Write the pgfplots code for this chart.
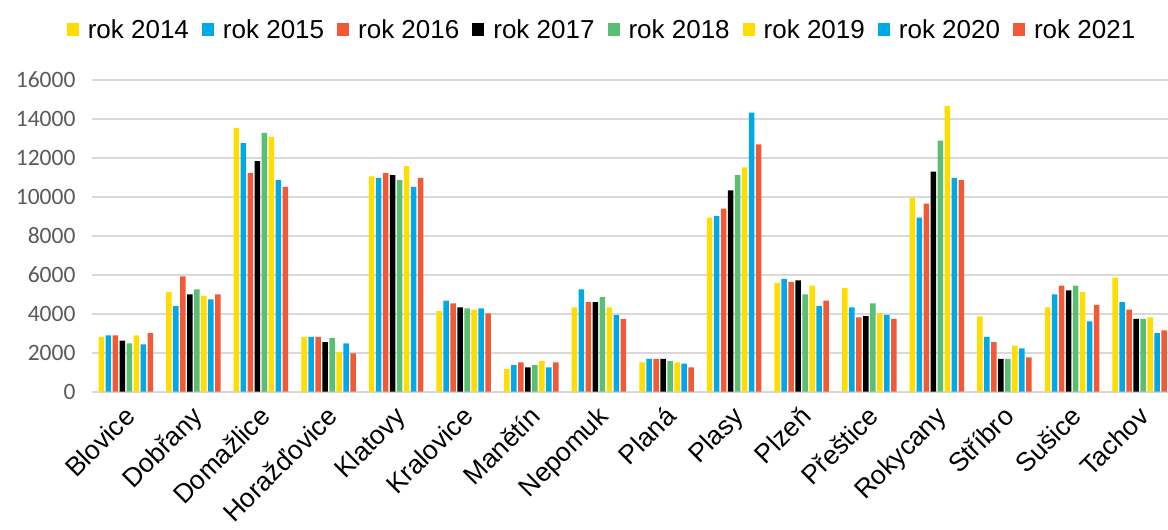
\documentclass[border=0pt]{standalone}
\usepackage{fontspec}
\setmainfont{Liberation Sans}
\newfontfamily\carlito{Carlito}
\usepackage{pgfplots}
\usepackage{pgfplotstable}
\pgfplotsset{compat=1.18}
\definecolor{cy}{RGB}{255,221,0}
\definecolor{cb}{RGB}{0,169,230}
\definecolor{cr}{RGB}{240,90,55}
\definecolor{cg}{RGB}{90,190,115}
\definecolor{ck}{RGB}{0,0,0}
\definecolor{gridc}{RGB}{217,217,217}
\definecolor{tickc}{RGB}{89,89,89}

\pgfplotstableread{
x a b c d e f g h
0 2820 2890 2890 2620 2480 2890 2430 3010
1 5130 4390 5920 4990 5250 4920 4740 4990
2 13540 12760 11230 11830 13290 13080 10860 10520
3 2820 2820 2820 2550 2750 2020 2480 1970
4 11050 10980 11230 11120 10860 11580 10520 10980
5 4140 4670 4530 4330 4280 4210 4280 4020
6 1160 1370 1500 1250 1370 1570 1250 1500
7 4330 5250 4600 4600 4860 4330 3930 3740
8 1500 1690 1690 1690 1570 1500 1440 1250
9 8940 9010 9400 10330 11120 11510 14330 12690
10 5570 5780 5640 5710 4990 5450 4390 4670
11 5320 4330 3810 3880 4530 4020 3930 3740
12 9940 8940 9660 11300 12890 14670 10980 10860
13 3870 2820 2550 1690 1690 2360 2220 1760
14 4330 4990 5450 5200 5450 5110 3610 4460
15 5850 4600 4210 3740 3740 3810 3010 3150
}\data

\begin{document}
\begin{tikzpicture}
\path[use as bounding box] (-92pt,-138pt) rectangle (1076pt,391.7pt);
\begin{axis}[
  at={(0pt,0pt)}, anchor=south west,
  scale only axis,
  width=1076pt, height=311.7pt,
  xmin=-0.5, xmax=15.42,
  ymin=0, ymax=16000,
  ybar=1.5pt, bar width=5.5pt,
  xtick=data,
  xticklabels={Blovice,Dobřany,Domažlice,Horažďovice,Klatovy,Kralovice,Manětín,Nepomuk,Planá,Plasy,Plzeň,Přeštice,Rokycany,Stříbro,Sušice,Tachov},
  x tick label style={rotate=45, anchor=north east, font=\fontsize{26.5}{26.5}\selectfont, inner sep=2pt, yshift=-5pt, xshift=-9pt},
  ytick={0,2000,...,16000},
  y tick label style={font=\carlito\fontsize{23.5}{23.5}\selectfont, color=tickc, xshift=-13pt},
  /pgf/number format/assume math mode=true,
  /pgf/number format/set thousands separator={},
  scaled y ticks=false,
  major tick length=0pt,
  axis line style={draw=none},
  ymajorgrids,
  major grid style={draw=gridc, line width=1.6pt},
  legend columns=8,
  legend style={at={(0.474,1.162)}, anchor=center, draw=none, fill=none,
    font=\fontsize{26}{26}\selectfont,
    /tikz/every odd column/.append style={column sep=7pt},
    /tikz/every even column/.append style={column sep=11pt}},
  legend image code/.code={\fill[#1] (0pt,-6.5pt) rectangle (12pt,6.5pt);},
  clip=false,
]
\addplot[fill=cy, draw=none] table[x=x, y=a] {\data};
\addplot[fill=cb, draw=none] table[x=x, y=b] {\data};
\addplot[fill=cr, draw=none] table[x=x, y=c] {\data};
\addplot[fill=ck, draw=none] table[x=x, y=d] {\data};
\addplot[fill=cg, draw=none] table[x=x, y=e] {\data};
\addplot[fill=cy, draw=none] table[x=x, y=f] {\data};
\addplot[fill=cb, draw=none] table[x=x, y=g] {\data};
\addplot[fill=cr, draw=none] table[x=x, y=h] {\data};
\legend{rok 2014,rok 2015,rok 2016,rok 2017,rok 2018,rok 2019,rok 2020,rok 2021}
\end{axis}
\end{tikzpicture}
\end{document}
